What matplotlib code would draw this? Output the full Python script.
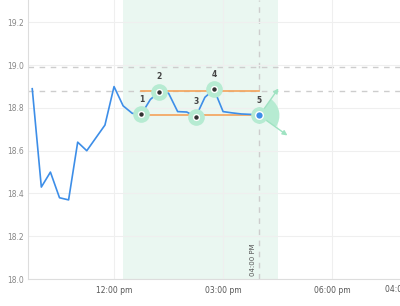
import matplotlib
matplotlib.use("Agg")
import matplotlib.pyplot as plt
import matplotlib.dates as mdates
import matplotlib.transforms as mtransforms
import matplotlib.patches as patches
import pandas as pd

# === Data ===
times = pd.date_range("2024-01-01 09:45", "2024-01-01 16:00", freq="15min")
values = [18.89, 18.43, 18.50, 18.38, 18.37, 18.64, 18.60, 18.66, 18.72, 18.90,
          18.81, 18.775, 18.77, 18.84, 18.876, 18.869, 18.783, 18.781, 18.759, 18.85,
          18.887, 18.783, 18.777, 18.772, 18.77, 18.765]

pivot_idx = [12, 14, 18, 20, 25]          # numbered points 1..5
pivot_labels = ["1", "2", "3", "4", "5"]
upper_level = 18.878
lower_level = 18.767
ref_levels = [18.99, 18.88]
span_start = pd.Timestamp("2024-01-01 12:15")
span_end = pd.Timestamp("2024-01-01 16:30")
marker_time = pd.Timestamp("2024-01-01 16:00")
marker_label = "04:00 PM"
xtick_times = pd.to_datetime(["2024-01-01 12:00", "2024-01-01 15:00", "2024-01-01 18:00"])
xtick_labels = ["12:00 pm", "03:00 pm", "06:00 pm"]
yticks = [18.0, 18.2, 18.4, 18.6, 18.8, 19.0, 19.2]

BLUE = "#3d8ee8"
ORANGE = "#f4a259"
GREEN = "#b6ebd2"
GRAYDASH = "#cdcdcd"

fig = plt.figure(figsize=(4.0, 3.06), dpi=100)
ax = fig.add_axes([28/400, 27/306, 372/400, 279/306])

xnum = mdates.date2num(times)
ax.set_xlim(mdates.date2num(pd.Timestamp("2024-01-01 09:38")),
            mdates.date2num(pd.Timestamp("2024-01-01 19:52")))
ax.set_ylim(18.0, 19.305)

# background bits
ax.axvspan(span_start, span_end, color="#eaf7f1", zorder=0, lw=0)
for lv in ref_levels:
    ax.axhline(lv, color=GRAYDASH, lw=1.0, ls=(0, (4, 4)), zorder=1)
ax.axvline(marker_time, color=GRAYDASH, lw=1.0, ls=(0, (4, 4)), zorder=1)
ax.annotate(marker_label, (mdates.date2num(marker_time), 18.0), xytext=(-6, 3),
            textcoords="offset pixels", rotation=90, ha="center", va="bottom",
            fontsize=5, color="#555555")

ax.set_yticks(yticks)
ax.set_yticklabels([f"{v:.1f}" for v in yticks])
ax.set_xticks(mdates.date2num(xtick_times))
ax.set_xticklabels(xtick_labels)
ax.tick_params(axis="y", length=0, pad=3, labelsize=5.5, labelcolor="#888888")
ax.tick_params(axis="x", length=0, pad=5, labelsize=5.5, labelcolor="#555555")
ax.grid(True, color="#efefef", lw=0.8, zorder=0)
for s in ["top", "right"]:
    ax.spines[s].set_visible(False)
ax.spines["left"].set_color("#dddddd")
ax.spines["bottom"].set_color("#dddddd")

# orange levels between first pivot and last
x0 = xnum[pivot_idx[0]]
x1 = xnum[pivot_idx[-1]]
ax.plot([x0, x1], [upper_level, upper_level], color=ORANGE, lw=1.2, zorder=2)
ax.plot([x0, x1], [lower_level, lower_level], color=ORANGE, lw=1.2, zorder=2)

ax.plot(xnum, values, color=BLUE, lw=1.2, zorder=3)

# wedge + arrows at last point
lx, ly = xnum[pivot_idx[-1]], values[pivot_idx[-1]]
trans = mtransforms.Affine2D() + mtransforms.ScaledTranslation(lx, ly, ax.transData)
ax.add_patch(patches.Wedge((0, 0), 20, -35, 55, transform=trans,
                           facecolor=GREEN, edgecolor="none", zorder=4))
for dx, dy in [(19, 27), (28, -20)]:
    ax.annotate("", xy=(dx, dy), xycoords=trans, xytext=(0, 0), textcoords=trans,
                arrowprops=dict(arrowstyle="-|>", color="#9fe3c2", lw=1.0,
                                mutation_scale=7, shrinkA=0, shrinkB=0), zorder=4)

# pivots
for k, (i, lab) in enumerate(zip(pivot_idx, pivot_labels)):
    px, py = xnum[i], values[i]
    ax.plot(px, py, "o", ms=12, color=GREEN, mec="none", zorder=5)
    if k == len(pivot_idx) - 1:
        ax.plot(px, py, "o", ms=5.5, color=BLUE, mec="white", mew=1.0, zorder=6)
    else:
        ax.plot(px, py, "o", ms=4.2, color="#333333", mec="white", mew=1.0, zorder=6)
    ax.annotate(lab, (px, py), xytext=(0, 15), textcoords="offset pixels",
                ha="center", va="center", fontsize=5.5, fontweight="bold",
                color="#444444", zorder=7)

# partly visible label at the right edge, cut off as in the original
fig.text(385/400, 17/306, "04:00 pm", fontsize=5.5, color="#555555", va="center", ha="left")

fig.savefig("out.png", dpi=100)
